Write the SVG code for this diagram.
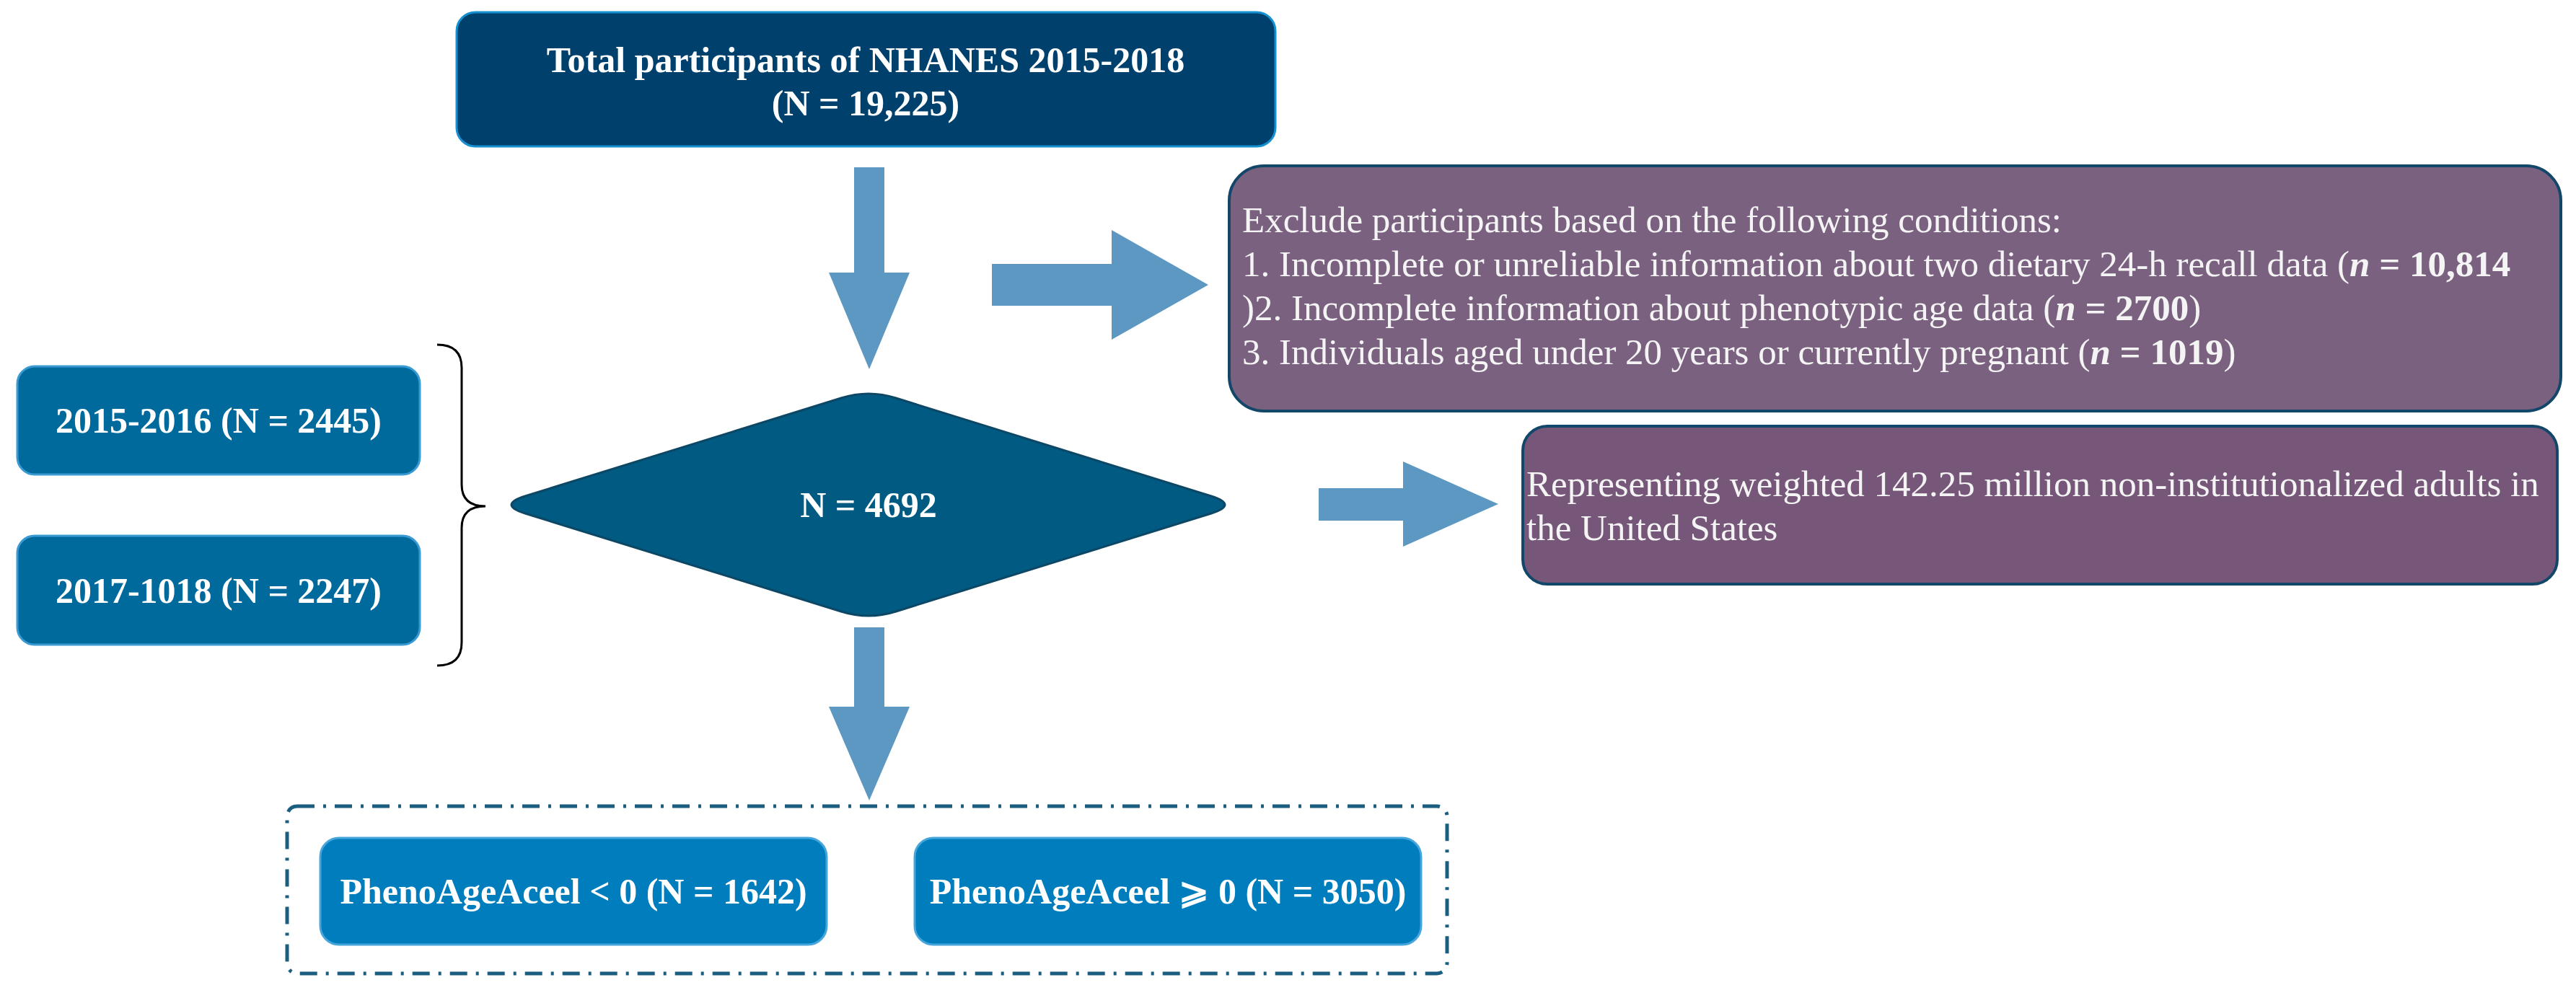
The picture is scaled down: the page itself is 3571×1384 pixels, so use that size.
<svg xmlns="http://www.w3.org/2000/svg" width="3571" height="1384" viewBox="0 0 3571 1384">
<style>
text{font-family:"Liberation Serif","Times New Roman",serif;fill:#ffffff}
.b{font-weight:bold;font-size:50px}
.r{font-size:51px;fill:#f4f4f4}
.m{text-anchor:middle}
.arrow{fill:#5d98c2}
.purple{stroke:#13476a;stroke-width:4}
.blue{fill:#006a9d;stroke:#3a9bd4;stroke-width:3}
.pheno{fill:#007dbc;stroke:#46a6dc;stroke-width:3}
</style>
<rect width="3571" height="1384" fill="#ffffff"/>
<g id="connectors">
<path class="arrow" d="M1184,232 L1226,232 L1226,378 L1261,378 L1205,512 L1149,378 L1184,378 Z"/>
<path class="arrow" d="M1375,366 L1541,366 L1541,319 L1675,395 L1541,471 L1541,424 L1375,424 Z"/>
<path class="arrow" d="M1828,677 L1945,677 L1945,640 L2077,699 L1945,758 L1945,722 L1828,722 Z"/>
<path class="arrow" d="M1184,870 L1226,870 L1226,980 L1261,980 L1205,1110 L1149,980 L1184,980 Z"/>
<path d="M606,478 Q640,478 640,510 L640,672 Q640,702 673,702 Q640,702 640,732 L640,891 Q640,923 606,923" fill="none" stroke="#000000" stroke-width="3"/>
</g>
<g id="total">
<rect x="633" y="17" width="1135" height="186" rx="26" fill="#00406c" stroke="#1590d0" stroke-width="3"/>
<text class="b m" x="1200" y="100">Total participants of NHANES 2015-2018</text>
<text class="b m" x="1200" y="160">(N = 19,225)</text>
</g>
<g id="exclude">
<rect class="purple" x="1704" y="230" width="1846" height="340" rx="48" fill="#7b6180"/>
<text class="r" x="1722" y="322">Exclude participants based on the following conditions:</text>
<text class="r" x="1722" y="383">1. Incomplete or unreliable information about two dietary 24-h recall data (<tspan font-weight="bold" font-style="italic">n</tspan><tspan font-weight="bold"> = 10,814</tspan></text>
<text class="r" x="1722" y="444">)2. Incomplete information about phenotypic age data (<tspan font-weight="bold" font-style="italic">n</tspan><tspan font-weight="bold"> = 2700</tspan>)</text>
<text class="r" x="1722" y="505">3. Individuals aged under 20 years or currently pregnant (<tspan font-weight="bold" font-style="italic">n</tspan><tspan font-weight="bold"> = 1019</tspan>)</text>
</g>
<g id="cycle1">
<rect class="blue" x="24" y="508" width="558" height="150" rx="24"/>
<text class="b m" x="303" y="600">2015-2016 (N = 2445)</text>
</g>
<g id="cycle2">
<rect class="blue" x="24" y="743" width="558" height="151" rx="24"/>
<text class="b m" x="303" y="836">2017-1018 (N = 2247)</text>
</g>
<g id="total_included">
<path d="M1166,552 Q1204,540 1242,552 L1679,688 Q1717,700 1679,712 L1242,848 Q1204,860 1166,848 L728,712 Q690,700 728,688 Z" fill="#005a82" stroke="#0d4766" stroke-width="3"/>
<text class="b m" x="1204" y="717">N = 4692</text>
</g>
<g id="represent">
<rect class="purple" x="2111" y="591" width="1434" height="219" rx="34" fill="#765779"/>
<text class="r" x="2116" y="688">Representing weighted 142.25 million non-institutionalized adults in</text>
<text class="r" x="2116" y="749">the United States</text>
</g>
<g id="groups">
<rect x="398" y="1118" width="1608" height="232" rx="14" fill="none" stroke="#1b5e80" stroke-width="5" stroke-dasharray="24 12 4 12"/>
</g>
<g id="pheno_neg">
<rect class="pheno" x="444" y="1162" width="702" height="148" rx="26"/>
<text class="b m" x="795" y="1253">PhenoAgeAceel &lt; 0 (N = 1642)</text>
</g>
<g id="pheno_pos">
<rect class="pheno" x="1268" y="1162" width="702" height="148" rx="26"/>
<text class="b m" x="1619" y="1253">PhenoAgeAceel ⩾ 0 (N = 3050)</text>
</g>
</svg>
